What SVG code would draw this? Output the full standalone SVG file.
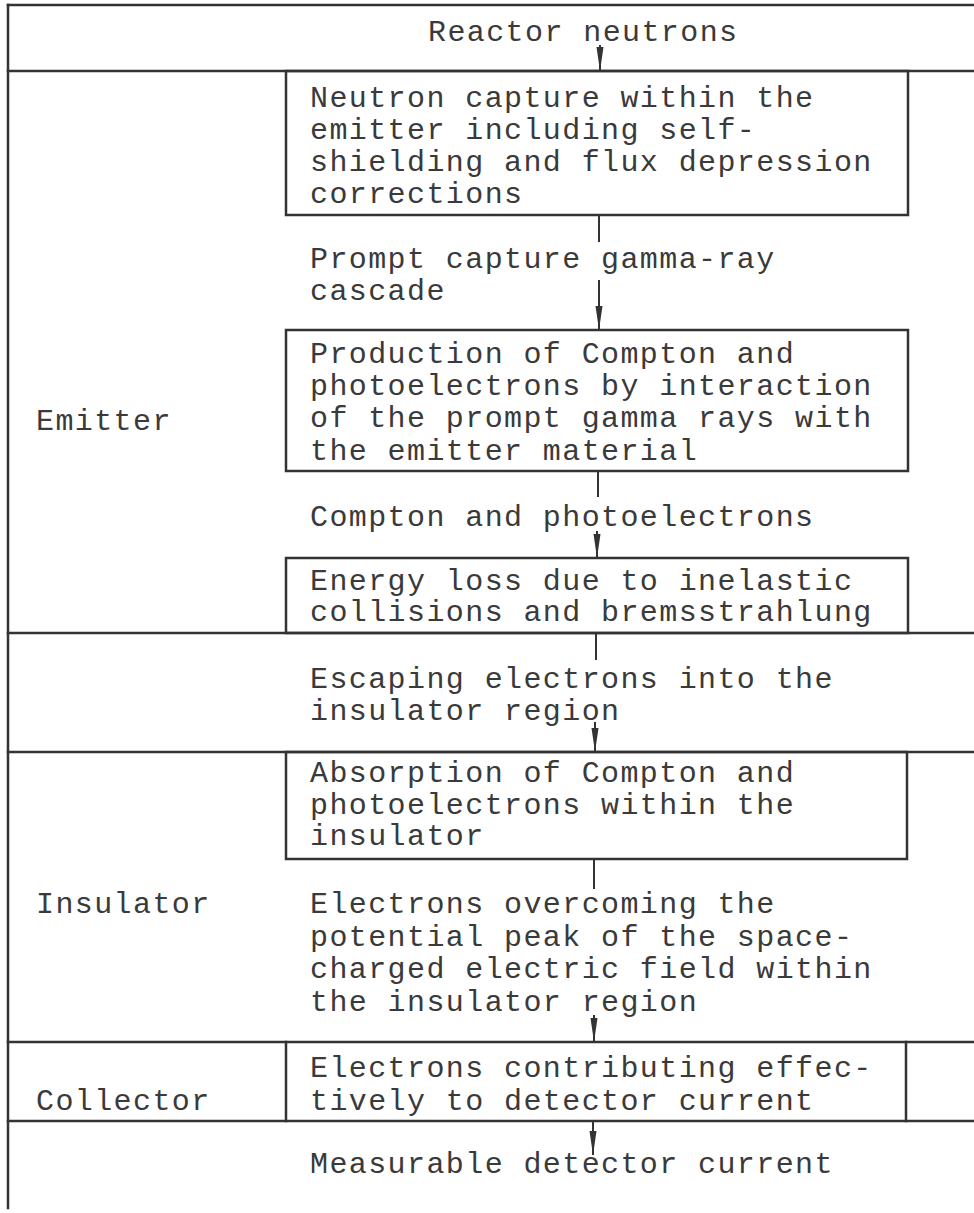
<svg xmlns="http://www.w3.org/2000/svg" width="974" height="1213" viewBox="0 0 974 1213">
<style>
.ln{stroke:#333;stroke-width:2.5;fill:none;stroke-linecap:square}
.bx{stroke:#333;stroke-width:2.5;fill:none}
.t{font-family:"Liberation Mono","DejaVu Sans Mono",monospace;font-size:30px;letter-spacing:1.4px;fill:#3a3a3a}
.c{stroke:#333;stroke-width:2;fill:none}
</style>
<defs>
<marker id="ah" viewBox="0 0 24 8" refX="24" refY="4" markerWidth="24" markerHeight="8" markerUnits="userSpaceOnUse" orient="auto">
<path d="M0,0.5 L24,4 L0,7.5 Z" fill="#333"/>
</marker>
</defs>
<rect width="974" height="1213" fill="#fff"/>
<g id="frame">
<line class="ln" x1="8" y1="5" x2="974" y2="5"/>
<line class="ln" x1="8" y1="5" x2="8" y2="1208"/>
<line class="ln" x1="8" y1="71" x2="974" y2="71"/>
<line class="ln" x1="8" y1="633" x2="974" y2="633"/>
<line class="ln" x1="8" y1="752" x2="974" y2="752"/>
<line class="ln" x1="8" y1="1042" x2="974" y2="1042"/>
<line class="ln" x1="8" y1="1121" x2="974" y2="1121"/>
</g>
<g id="reactor-neutrons"><text class="t" x="428" y="41">Reactor neutrons</text></g>
<g id="label-emitter"><text class="t" x="36" y="430">Emitter</text></g>
<g id="label-insulator"><text class="t" x="36" y="913">Insulator</text></g>
<g id="label-collector"><text class="t" x="36" y="1110">Collector</text></g>
<g id="box-capture">
<rect class="bx" x="286" y="71" width="622" height="144"/>
<text class="t" x="310" y="107">Neutron capture within the</text>
<text class="t" x="310" y="139">emitter including self-</text>
<text class="t" x="310" y="171">shielding and flux depression</text>
<text class="t" x="310" y="203">corrections</text>
</g>
<g id="prompt-cascade">
<text class="t" x="310" y="268">Prompt capture gamma-ray</text>
<text class="t" x="310" y="300">cascade</text>
</g>
<g id="box-production">
<rect class="bx" x="286" y="330" width="622" height="141"/>
<text class="t" x="310" y="363">Production of Compton and</text>
<text class="t" x="310" y="395">photoelectrons by interaction</text>
<text class="t" x="310" y="427">of the prompt gamma rays with</text>
<text class="t" x="310" y="460">the emitter material</text>
</g>
<g id="compton-photo"><text class="t" x="310" y="526">Compton and photoelectrons</text></g>
<g id="box-energy-loss">
<rect class="bx" x="286" y="558" width="622" height="75"/>
<text class="t" x="310" y="590">Energy loss due to inelastic</text>
<text class="t" x="310" y="621">collisions and bremsstrahlung</text>
</g>
<g id="escaping">
<text class="t" x="310" y="688">Escaping electrons into the</text>
<text class="t" x="310" y="720">insulator region</text>
</g>
<g id="box-absorption">
<rect class="bx" x="286" y="752" width="621" height="107"/>
<text class="t" x="310" y="782">Absorption of Compton and</text>
<text class="t" x="310" y="814">photoelectrons within the</text>
<text class="t" x="310" y="845">insulator</text>
</g>
<g id="overcoming">
<text class="t" x="310" y="913">Electrons overcoming the</text>
<text class="t" x="310" y="946">potential peak of the space-</text>
<text class="t" x="310" y="978">charged electric field within</text>
<text class="t" x="310" y="1011">the insulator region</text>
</g>
<g id="box-contributing">
<line class="ln" x1="286" y1="1042" x2="286" y2="1121"/>
<line class="ln" x1="906" y1="1042" x2="906" y2="1121"/>
<text class="t" x="310" y="1077">Electrons contributing effec-</text>
<text class="t" x="310" y="1110">tively to detector current</text>
</g>
<g id="measurable"><text class="t" x="310" y="1173">Measurable detector current</text></g>
<g id="connectors">
<line class="c" x1="600" y1="45" x2="600" y2="71" marker-end="url(#ah)"/>
<line class="c" x1="599" y1="215" x2="599" y2="242"/>
<line class="c" x1="599" y1="280" x2="599" y2="330" marker-end="url(#ah)"/>
<line class="c" x1="598" y1="471" x2="598" y2="497"/>
<line class="c" x1="597" y1="531" x2="597" y2="558" marker-end="url(#ah)"/>
<line class="c" x1="596" y1="633" x2="596" y2="660"/>
<line class="c" x1="595" y1="722" x2="595" y2="752" marker-end="url(#ah)"/>
<line class="c" x1="594" y1="859" x2="594" y2="889"/>
<line class="c" x1="594" y1="1015" x2="594" y2="1042" marker-end="url(#ah)"/>
<line class="c" x1="593" y1="1121" x2="593" y2="1155" marker-end="url(#ah)"/>
</g>
</svg>
